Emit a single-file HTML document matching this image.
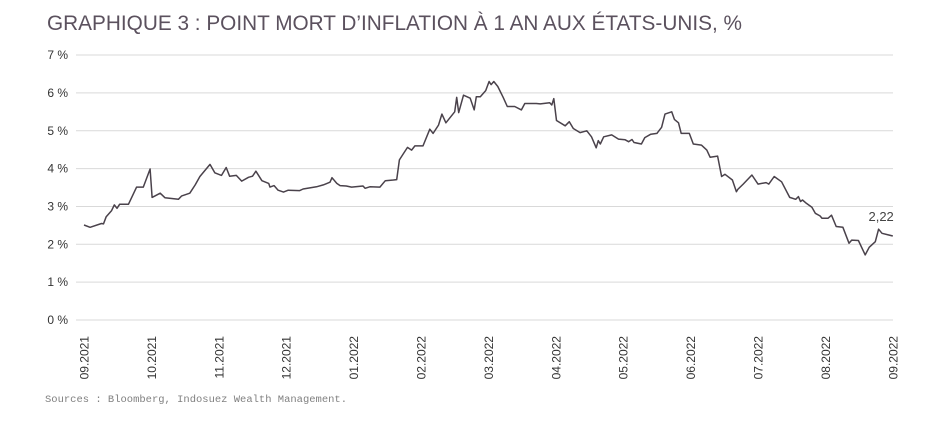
<!DOCTYPE html>
<html><head><meta charset="utf-8"><style>
html,body{margin:0;padding:0;background:#fff;}
svg{display:block;}
</style></head><body>
<svg width="935" height="422" viewBox="0 0 935 422" xmlns="http://www.w3.org/2000/svg">
<text x="47" y="30" font-family="Liberation Sans, sans-serif" font-size="21" fill="#5b515e" textLength="695" lengthAdjust="spacingAndGlyphs">GRAPHIQUE 3 : POINT MORT D’INFLATION À 1 AN AUX ÉTATS-UNIS, %</text>
<g id="grid"></g>
<g id="yaxis"></g>
<g id="xaxis"></g>
<path id="line" fill="none" stroke="#4a424b" stroke-width="1.5" stroke-linejoin="round"/>
<text id="lastlabel" font-family="Liberation Sans, sans-serif" font-size="13" fill="#444" text-anchor="end"></text>
<text x="45" y="402" font-family="Liberation Mono, monospace" font-size="10" fill="#808080" textLength="302" lengthAdjust="spacingAndGlyphs">Sources : Bloomberg, Indosuez Wealth Management.</text>
</svg>
<script>
const yTicks=[0,1,2,3,4,5,6,7];
const yTickLabels=["0 %","1 %","2 %","3 %","4 %","5 %","6 %","7 %"];
const xTickLabels=["09.2021","10.2021","11.2021","12.2021","01.2022","02.2022","03.2022","04.2022","05.2022","06.2022","07.2022","08.2022","09.2022"];
// t = months since 09.2021
const times=[0,0.09,0.26,0.29,0.33,0.41,0.45,0.49,0.53,0.66,0.78,0.88,0.98,1.01,1.13,1.2,1.4,1.45,1.57,1.65,1.72,1.87,1.94,2.04,2.11,2.16,2.26,2.34,2.44,2.5,2.55,2.64,2.74,2.76,2.82,2.88,2.96,3.03,3.2,3.25,3.45,3.55,3.65,3.68,3.75,3.8,3.89,3.97,4.14,4.17,4.24,4.39,4.47,4.59,4.64,4.68,4.74,4.8,4.86,4.91,5.03,5.13,5.18,5.26,5.31,5.37,5.5,5.53,5.56,5.63,5.73,5.79,5.82,5.88,5.96,6.01,6.04,6.08,6.14,6.22,6.28,6.39,6.49,6.54,6.71,6.77,6.91,6.94,6.97,7.01,7.14,7.2,7.26,7.36,7.46,7.53,7.6,7.63,7.66,7.71,7.83,7.93,8.03,8.08,8.13,8.16,8.27,8.32,8.41,8.5,8.57,8.62,8.72,8.76,8.82,8.86,8.98,9.04,9.16,9.24,9.29,9.4,9.46,9.51,9.62,9.68,9.7,9.78,9.91,10.0,10.12,10.16,10.24,10.35,10.47,10.56,10.6,10.63,10.66,10.72,10.8,10.85,10.92,10.95,11.04,11.09,11.16,11.26,11.35,11.39,11.49,11.59,11.65,11.74,11.79,11.84,12.0];
const values=[2.51,2.45,2.55,2.54,2.73,2.89,3.04,2.95,3.06,3.06,3.51,3.51,3.99,3.24,3.35,3.23,3.19,3.28,3.35,3.57,3.79,4.11,3.89,3.82,4.03,3.80,3.82,3.67,3.77,3.80,3.93,3.68,3.61,3.51,3.55,3.43,3.38,3.43,3.42,3.46,3.52,3.57,3.64,3.76,3.61,3.55,3.54,3.51,3.54,3.48,3.52,3.51,3.68,3.70,3.71,4.23,4.40,4.56,4.49,4.60,4.60,5.04,4.93,5.15,5.44,5.21,5.50,5.88,5.48,5.94,5.86,5.55,5.90,5.90,6.06,6.30,6.22,6.30,6.17,5.88,5.64,5.64,5.55,5.72,5.72,5.71,5.74,5.68,5.85,5.27,5.13,5.24,5.06,4.95,5.00,4.84,4.55,4.74,4.65,4.84,4.89,4.78,4.76,4.71,4.77,4.69,4.65,4.82,4.91,4.93,5.09,5.44,5.50,5.30,5.21,4.93,4.93,4.65,4.62,4.49,4.30,4.33,3.79,3.85,3.70,3.39,3.45,3.59,3.83,3.59,3.63,3.59,3.79,3.65,3.24,3.19,3.26,3.13,3.17,3.08,2.98,2.82,2.75,2.69,2.69,2.77,2.47,2.45,2.03,2.11,2.10,1.72,1.92,2.07,2.40,2.29,2.22];
const lastLabel="2,22";
const NS="http://www.w3.org/2000/svg";
const x=t=>84+t*67.4, y=v=>320-v*37.85;
const grid=document.getElementById('grid'),ya=document.getElementById('yaxis'),xa=document.getElementById('xaxis');
yTicks.forEach((v,i)=>{
 const l=document.createElementNS(NS,'line');
 
 
 l.setAttribute('x1',76);l.setAttribute('x2',893);l.setAttribute('y1',y(v));l.setAttribute('y2',y(v));
 l.setAttribute('stroke','#d9d9d9');l.setAttribute('stroke-width','1');grid.appendChild(l);
 const t=document.createElementNS(NS,'text');
 
 
 t.setAttribute('x',68);t.setAttribute('y',y(v)+4);t.setAttribute('text-anchor','end');
 t.setAttribute('font-family','Liberation Sans, sans-serif');t.setAttribute('font-size','12');t.setAttribute('fill','#333');
 t.textContent=yTickLabels[i];ya.appendChild(t);
});
xTickLabels.forEach((s,i)=>{
 const t=document.createElementNS(NS,'text');
 
 
 const px=x(i)+4.5;
 t.setAttribute('transform','translate('+px+',336) rotate(-90)');t.setAttribute('text-anchor','end');
 t.setAttribute('font-family','Liberation Sans, sans-serif');t.setAttribute('font-size','12');t.setAttribute('fill','#333');
 t.textContent=s;xa.appendChild(t);
});
document.getElementById('line').setAttribute('d',times.map((t,i)=>(i?'L':'M')+x(t).toFixed(1)+','+y(values[i]).toFixed(1)).join(''));
const ll=document.getElementById('lastlabel');
ll.setAttribute('x',x(times[times.length-1])+1);ll.setAttribute('y',y(values[values.length-1])-15);ll.textContent=lastLabel;
</script>
</body></html>
